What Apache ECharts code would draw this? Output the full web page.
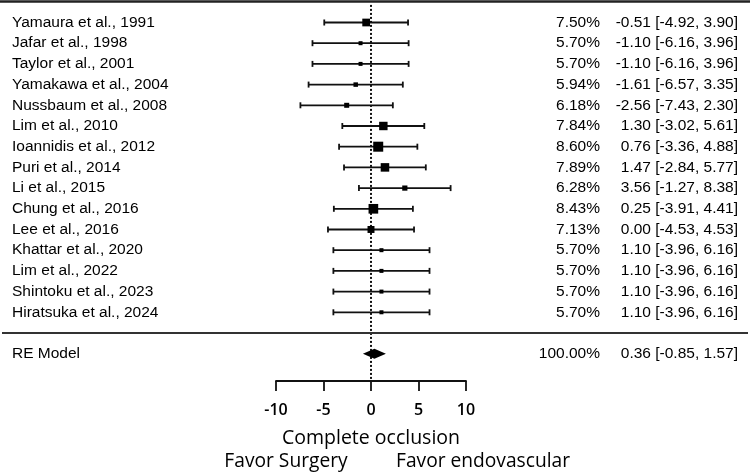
<!DOCTYPE html>
<html>
<head>
<meta charset="utf-8">
<script src="https://cdn.jsdelivr.net/npm/echarts@6/dist/echarts.min.js"></script>
<style>
  html, body { margin: 0; padding: 0; background: #fff; }
  #mychart { width: 751px; height: 473px; }
</style>
</head>
<body>
<div id="mychart"></div>
<script>
// study data
let studies = ['Yamaura et al., 1991', 'Jafar et al., 1998', 'Taylor et al., 2001', 'Yamakawa et al., 2004',
    'Nussbaum et al., 2008', 'Lim et al., 2010', 'Ioannidis et al., 2012', 'Puri et al., 2014', 'Li et al., 2015',
    'Chung et al., 2016', 'Lee et al., 2016', 'Khattar et al., 2020', 'Lim et al., 2022', 'Shintoku et al., 2023',
    'Hiratsuka et al., 2024']
let est = [-0.51, -1.10, -1.10, -1.61, -2.56, 1.30, 0.76, 1.47, 3.56, 0.25, 0.00, 1.10, 1.10, 1.10, 1.10]
let lower = [-4.92, -6.16, -6.16, -6.57, -7.43, -3.02, -3.36, -2.84, -1.27, -3.91, -4.53, -3.96, -3.96, -3.96, -3.96]
let upper = [3.90, 3.96, 3.96, 3.35, 2.30, 5.61, 4.88, 5.77, 8.38, 4.41, 4.53, 6.16, 6.16, 6.16, 6.16]
let weights = [7.50, 5.70, 5.70, 5.94, 6.18, 7.84, 8.60, 7.89, 6.28, 8.43, 7.13, 5.70, 5.70, 5.70, 5.70]

// pooled random-effects result
let reLabel = 'RE Model'
let reEst = 0.36
let reLower = -0.85
let reUpper = 1.57
let reWeight = 100.00

let xTicks = [-10, -5, 0, 5, 10]
let axisTitle = 'Complete occlusion'
let favorLeft = 'Favor Surgery'
let favorRight = 'Favor endovascular'

const reRow = studies.length + 1
const bottomRow = 17.32
const ink = '#111'
const tableFont = 'Liberation Sans'
const axisFont = 'Open Sans'

let myChart = echarts.init(document.getElementById('mychart'))

let rows = studies.map((s, i) => [i, est[i], lower[i], upper[i], weights[i]])

function fmt(v) {
    return v.toFixed(2)
}

function forestItem(params, api) {
    let row = api.value(0)
    let p = api.coord([api.value(1), row])
    let l = api.coord([api.value(2), row])
    let u = api.coord([api.value(3), row])
    let s = 4 + (api.value(4) - 5.7) * 2.07
    let st = { stroke: ink, lineWidth: 1.8 }
    return {
        type: 'group',
        children: [
            { type: 'line', shape: { x1: l[0], y1: l[1], x2: u[0], y2: u[1] }, style: st },
            { type: 'line', shape: { x1: l[0], y1: l[1] - 3, x2: l[0], y2: l[1] + 3 }, style: st },
            { type: 'line', shape: { x1: u[0], y1: u[1] - 3, x2: u[0], y2: u[1] + 3 }, style: st },
            { type: 'rect', shape: { x: p[0] - s / 2, y: p[1] - s / 2, width: s, height: s }, style: { fill: '#000' } }
        ]
    }
}

function textItem(params, api) {
    let row = api.value(0)
    let y = api.coord([0, row])[1]
    let idx = params.dataIndex
    let name, w, e, lo, hi
    if (idx < studies.length) {
        name = studies[idx]; w = weights[idx]; e = est[idx]; lo = lower[idx]; hi = upper[idx]
    } else {
        name = reLabel; w = reWeight; e = reEst; lo = reLower; hi = reUpper
    }
    let base = { fill: '#000', fontFamily: tableFont, fontSize: 15.5, verticalAlign: 'middle' }
    return {
        type: 'group',
        children: [
            { type: 'text', x: 12, y: y, style: Object.assign({ text: name, align: 'left' }, base) },
            { type: 'text', x: 600, y: y, style: Object.assign({ text: w.toFixed(2) + '%', align: 'right' }, base) },
            { type: 'text', x: 738, y: y, style: Object.assign({ text: fmt(e) + ' [' + fmt(lo) + ', ' + fmt(hi) + ']', align: 'right' }, base) }
        ]
    }
}

let option = {
    animation: false,
    backgroundColor: '#fff',
    grid: { left: 276, right: 285, top: 22.5, bottom: 92 },
    xAxis: {
        type: 'value',
        min: xTicks[0],
        max: xTicks[xTicks.length - 1],
        interval: 5,
        splitLine: { show: false },
        axisLine: { show: true, onZero: false, lineStyle: { color: ink, width: 1.8 } },
        axisTick: { show: true, length: 10, lineStyle: { color: ink, width: 1.8 } },
        axisLabel: { margin: 21, color: '#000', fontFamily: axisFont, fontSize: 16, fontWeight: 600 },
        name: axisTitle,
        nameLocation: 'middle',
        nameGap: 47,
        nameTextStyle: { color: '#000', fontFamily: axisFont, fontSize: 19.5 }
    },
    yAxis: {
        type: 'value',
        inverse: true,
        min: 0,
        max: bottomRow,
        show: false
    },
    graphic: [
        { type: 'line', shape: { x1: 0, y1: 1.5, x2: 750, y2: 1.5 }, style: { stroke: '#222', lineWidth: 2.6 } },
        { type: 'text', x: 286, y: 462, style: { text: favorLeft, align: 'center', verticalAlign: 'middle', fill: '#000', fontFamily: axisFont, fontSize: 19.2 } },
        { type: 'text', x: 483, y: 462, style: { text: favorRight, align: 'center', verticalAlign: 'middle', fill: '#000', fontFamily: axisFont, fontSize: 19.2 } }
    ],
    series: [
        {
            // dotted reference line at zero
            type: 'custom',
            silent: true,
            clip: false,
            data: [[0]],
            renderItem: function (params, api) {
                let a = api.coord([0, -0.85])
                let b = api.coord([0, bottomRow])
                return { type: 'line', shape: { x1: a[0], y1: a[1], x2: b[0], y2: b[1] }, style: { stroke: ink, lineWidth: 2, lineDash: [2, 2] } }
            }
        },
        {
            // separator above the pooled estimate
            type: 'custom',
            silent: true,
            clip: false,
            data: [[studies.length]],
            renderItem: function (params, api) {
                let y = api.coord([0, api.value(0)])[1]
                return { type: 'line', shape: { x1: 2, y1: y, x2: 748, y2: y }, style: { stroke: '#333', lineWidth: 2.2 } }
            }
        },
        {
            type: 'custom',
            clip: false,
            encode: { x: [1, 2, 3], y: 0 },
            data: rows,
            renderItem: forestItem
        },
        {
            // pooled diamond
            type: 'custom',
            clip: false,
            encode: { x: [1, 2, 3], y: 0 },
            data: [[reRow, reEst, reLower, reUpper]],
            renderItem: function (params, api) {
                let row = api.value(0)
                let p = api.coord([api.value(1), row])
                let l = api.coord([api.value(2), row])
                let u = api.coord([api.value(3), row])
                return {
                    type: 'polygon',
                    shape: { points: [[l[0], l[1]], [p[0], p[1] - 5], [u[0], u[1]], [p[0], p[1] + 5]] },
                    style: { fill: '#000' }
                }
            }
        },
        {
            type: 'custom',
            silent: true,
            clip: false,
            data: rows.map(r => [r[0]]).concat([[reRow]]),
            renderItem: textItem
        }
    ]
}

myChart.setOption(option)
</script>
</body>
</html>
